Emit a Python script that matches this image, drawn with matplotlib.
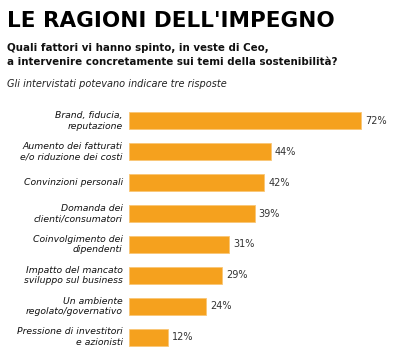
import matplotlib
matplotlib.use("Agg")
import matplotlib.pyplot as plt

categories = [
    "Brand, fiducia,\nreputazione",
    "Aumento dei fatturati\ne/o riduzione dei costi",
    "Convinzioni personali",
    "Domanda dei\nclienti/consumatori",
    "Coinvolgimento dei\ndipendenti",
    "Impatto del mancato\nsviluppo sul business",
    "Un ambiente\nregolato/governativo",
    "Pressione di investitori\ne azionisti",
]
values = [72, 44, 42, 39, 31, 29, 24, 12]
value_labels = ["72%", "44%", "42%", "39%", "31%", "29%", "24%", "12%"]

title = "LE RAGIONI DELL'IMPEGNO"
subtitle = "Quali fattori vi hanno spinto, in veste di Ceo,\na intervenire concretamente sui temi della sostenibilità?"
note = "Gli intervistati potevano indicare tre risposte"

plt.rcParams['font.family'] = ['DejaVu Sans']

fig = plt.figure(figsize=(4.0, 3.59), dpi=100)
ax = fig.add_axes([0.3225, 0.0178, 0.665, 0.6886])

ypos = list(range(len(values)))
ax.barh(ypos, values, height=0.55, color="#F5A11E", edgecolor="#F9C676", linewidth=0.6)
ax.set_ylim(len(values) - 0.5, -0.5)
ax.set_xlim(0, 82.6)
ax.axis("off")

for y, v, lab, cat in zip(ypos, values, value_labels, categories):
    ax.text(v + 1.3, y, lab, va="center", ha="left", fontsize=7, color="#333333")
    ax.annotate(cat, xy=(0, y), xytext=(-4.5, 0), textcoords="offset points",
                ha="right", va="center", fontsize=6.7, style="italic",
                color="#111111", linespacing=1.2)

fig.text(7/400, 1 - 21/359, title, fontsize=15.5, fontweight="bold", ha="left", va="center", color="#000000")
fig.text(7/400, 1 - 55/359, subtitle, fontsize=7.35, fontweight="bold", ha="left", va="center", color="#111111", linespacing=1.55)
fig.text(7/400, 1 - 84/359, note, fontsize=7, style="italic", ha="left", va="center", color="#222222")

fig.savefig("out.png", dpi=100)
